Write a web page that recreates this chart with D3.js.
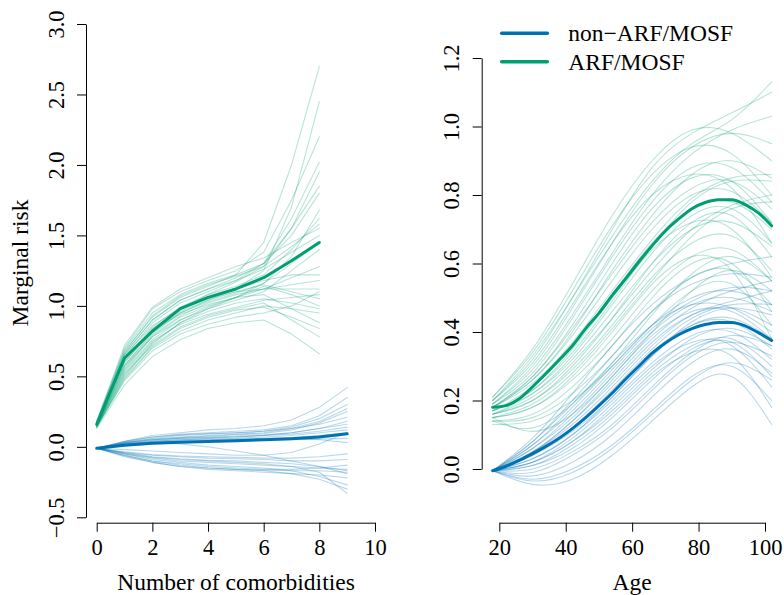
<!DOCTYPE html>
<html lang="en">
<head>
<meta charset="UTF-8" />
<title>Marginal risk</title>
<script src="https://d3js.org/d3.v7.min.js"></script>
<style>
  body { margin: 0; background: #fff; }
  svg { display: block; }
</style>
</head>
<body>
<svg width="784" height="595"></svg>
<script>
  const blue = "#0072B2";
  const green = "#009E73";
  const seriesNames = ["non\u2212ARF/MOSF", "ARF/MOSF"];

  // left panel: number of comorbidities
  const comorbArf = [0, 1, 2, 3, 4, 5, 6, 7, 8];
  const comorbNon = [0, 1, 2, 3, 4, 5, 6, 7, 8, 9];
  const meanArfComorb = [0.16, 0.63, 0.82, 0.98, 1.06, 1.12, 1.20, 1.32, 1.45];
  const meanNonComorb = [-0.01, 0.012, 0.025, 0.032, 0.038, 0.044, 0.05, 0.058, 0.07, 0.092];

  const drawsArfComorb = [
    [0.15,0.55,0.78,0.92,1.00,1.06,1.12,1.20,1.28],
    [0.17,0.66,0.90,1.04,1.12,1.20,1.30,1.55,1.85],
    [0.14,0.48,0.70,0.82,0.90,0.95,1.00,0.98,0.95],
    [0.18,0.70,0.98,1.10,1.18,1.25,1.38,1.75,2.20],
    [0.16,0.60,0.82,0.96,1.04,1.10,1.15,1.10,1.05],
    [0.15,0.52,0.72,0.85,0.93,0.98,1.02,0.90,0.78],
    [0.17,0.68,0.92,1.06,1.14,1.22,1.45,2.00,2.70],
    [0.16,0.62,0.85,0.99,1.08,1.14,1.22,1.40,1.62],
    [0.13,0.44,0.64,0.76,0.84,0.88,0.90,0.80,0.66],
    [0.18,0.72,0.99,1.12,1.20,1.28,1.34,1.45,1.55],
    [0.15,0.57,0.78,0.90,0.98,1.04,1.10,1.25,1.40],
    [0.16,0.64,0.88,1.02,1.10,1.18,1.30,1.62,2.02],
    [0.14,0.50,0.73,0.88,0.98,1.06,1.14,1.08,1.00],
    [0.17,0.65,0.86,0.98,1.05,1.10,1.12,1.15,1.18],
    [0.15,0.58,0.80,0.95,1.04,1.12,1.25,1.70,2.45],
    [0.16,0.61,0.84,0.97,1.05,1.12,1.18,1.22,1.22],
    [0.14,0.47,0.68,0.80,0.87,0.92,0.95,1.00,1.10],
    [0.18,0.69,0.95,1.08,1.16,1.22,1.30,1.50,1.80],
    [0.15,0.54,0.76,0.90,0.99,1.06,1.16,1.30,1.45],
    [0.17,0.63,0.83,0.94,1.01,1.06,1.08,0.98,0.88],
    [0.16,0.60,0.83,0.98,1.08,1.17,1.28,1.55,1.95],
    [0.15,0.56,0.79,0.93,1.02,1.08,1.12,1.12,1.12],
    [0.16,0.66,0.90,1.04,1.12,1.18,1.26,1.38,1.50],
    [0.14,0.51,0.74,0.88,0.96,1.02,1.05,1.02,0.98],
    [0.16,0.58,0.81,0.95,1.03,1.09,1.16,1.35,1.68],
    [0.15,0.53,0.75,0.87,0.94,0.99,1.04,1.06,1.08],
    [0.17,0.67,0.93,1.07,1.15,1.21,1.28,1.42,1.58],
    [0.14,0.49,0.71,0.84,0.92,0.97,0.99,0.92,0.84]
  ];

  const drawsNonComorb = [
    [-0.01,0.03,0.06,0.08,0.09,0.10,0.11,0.14,0.20,0.30],
    [-0.01,0.02,0.04,0.05,0.06,0.07,0.08,0.10,0.13,0.18],
    [-0.01,0.04,0.08,0.10,0.12,0.13,0.15,0.19,0.28,0.42],
    [-0.01,0.01,0.02,0.03,0.035,0.04,0.045,0.05,0.055,0.06],
    [-0.01,0.03,0.05,0.065,0.075,0.085,0.095,0.12,0.17,0.25],
    [-0.01,0.02,0.035,0.045,0.05,0.055,0.06,0.065,0.08,0.10],
    [-0.01,0.035,0.07,0.09,0.10,0.11,0.12,0.15,0.22,0.35],
    [-0.01,0.015,0.03,0.04,0.045,0.05,0.055,0.06,0.05,0.03],
    [-0.01,0.025,0.05,0.06,0.07,0.075,0.085,0.10,0.13,0.16],
    [-0.01,0.03,0.055,0.07,0.08,0.09,0.10,0.13,0.18,0.27],
    [-0.01,0.02,0.04,0.05,0.055,0.06,0.07,0.08,0.10,0.12],
    [-0.01,0.04,0.07,0.085,0.095,0.10,0.11,0.13,0.16,0.21],
    [-0.01,0.015,0.03,0.035,0.04,0.045,0.05,0.06,0.075,0.09],
    [-0.01,0.025,0.045,0.06,0.065,0.07,0.08,0.09,0.11,0.14],
    [-0.01,-0.05,-0.08,-0.10,-0.11,-0.12,-0.13,-0.14,-0.15,-0.16],
    [-0.01,-0.06,-0.10,-0.13,-0.15,-0.16,-0.17,-0.19,-0.23,-0.30],
    [-0.01,-0.04,-0.06,-0.07,-0.08,-0.085,-0.09,-0.10,-0.10,-0.09],
    [-0.01,-0.07,-0.11,-0.14,-0.16,-0.17,-0.18,-0.19,-0.20,-0.22],
    [-0.01,-0.05,-0.09,-0.11,-0.13,-0.14,-0.15,-0.17,-0.21,-0.27],
    [-0.01,-0.035,-0.055,-0.065,-0.07,-0.075,-0.08,-0.08,-0.07,-0.05],
    [-0.01,-0.06,-0.10,-0.12,-0.14,-0.15,-0.16,-0.16,-0.15,-0.13],
    [-0.01,-0.045,-0.075,-0.09,-0.10,-0.11,-0.12,-0.14,-0.18,-0.33],
    [-0.01,-0.065,-0.11,-0.14,-0.15,-0.16,-0.165,-0.17,-0.17,-0.18],
    [-0.01,-0.04,-0.07,-0.085,-0.095,-0.10,-0.11,-0.12,-0.14,-0.19],
    [-0.01,-0.02,-0.03,-0.04,-0.05,-0.06,-0.06,-0.04,0.02,0.10],
    [-0.01,0.02,0.03,0.02,0.0,-0.03,-0.06,-0.10,-0.14,-0.17]
  ];

  // right panel: age
  const meanAges = [18,22,26,30,34,38,42,46,50,54,58,62,66,70,74,78,82,86,90,94,98,102];
  const meanArfAge = [0.18,0.185,0.205,0.24,0.278,0.318,0.36,0.41,0.455,0.507,0.555,0.605,0.652,0.695,0.73,0.76,0.778,0.786,0.786,0.772,0.748,0.71];
  const meanNonAge = [-0.005,0.008,0.025,0.045,0.066,0.09,0.118,0.15,0.185,0.222,0.262,0.30,0.338,0.368,0.392,0.41,0.422,0.428,0.428,0.418,0.398,0.375];

  const drawAges = [18, 30, 42, 54, 66, 78, 90, 102];
  const drawsArfAge = [
    [0.18,0.26,0.40,0.58,0.74,0.86,0.90,0.85],
    [0.17,0.22,0.32,0.46,0.60,0.70,0.72,0.65],
    [0.20,0.32,0.50,0.70,0.88,0.98,1.04,1.10],
    [0.15,0.18,0.26,0.38,0.52,0.62,0.64,0.55],
    [0.19,0.28,0.44,0.62,0.78,0.88,0.88,0.78],
    [0.16,0.20,0.29,0.42,0.56,0.66,0.68,0.58],
    [0.21,0.35,0.54,0.74,0.90,0.99,0.98,0.90],
    [0.14,0.15,0.22,0.33,0.46,0.56,0.58,0.48],
    [0.18,0.25,0.37,0.52,0.67,0.79,0.85,0.86],
    [0.17,0.23,0.35,0.50,0.64,0.72,0.70,0.56],
    [0.19,0.30,0.47,0.66,0.83,0.94,0.98,0.95],
    [0.13,0.14,0.20,0.30,0.42,0.52,0.54,0.42],
    [0.18,0.27,0.41,0.57,0.72,0.82,0.84,0.76],
    [0.16,0.21,0.31,0.44,0.58,0.70,0.77,0.80],
    [0.20,0.31,0.48,0.66,0.80,0.86,0.82,0.66],
    [0.17,0.24,0.36,0.51,0.66,0.76,0.78,0.70],
    [0.15,0.19,0.28,0.41,0.55,0.68,0.76,0.78],
    [0.21,0.34,0.52,0.71,0.86,0.94,0.92,0.80],
    [0.18,0.26,0.39,0.55,0.70,0.80,0.81,0.72],
    [0.16,0.22,0.33,0.48,0.63,0.74,0.76,0.66],
    [0.19,0.29,0.45,0.63,0.80,0.92,0.99,1.03],
    [0.14,0.16,0.24,0.36,0.50,0.60,0.60,0.46],
    [0.18,0.27,0.42,0.60,0.76,0.85,0.84,0.72],
    [0.17,0.23,0.34,0.49,0.65,0.78,0.84,0.84],
    [0.20,0.33,0.50,0.68,0.84,0.95,1.02,1.13],
    [0.16,0.20,0.30,0.44,0.60,0.72,0.74,0.62],
    [0.15,0.18,0.27,0.40,0.54,0.62,0.58,0.38],
    [0.15,0.11,0.16,0.27,0.40,0.52,0.58,0.52],
    [0.14,0.12,0.19,0.31,0.45,0.57,0.62,0.55]
  ];

  const drawsNonAge = [
    [-0.005,0.05,0.14,0.25,0.37,0.45,0.47,0.42],
    [-0.005,0.02,0.08,0.17,0.28,0.36,0.38,0.30],
    [-0.005,0.08,0.20,0.33,0.46,0.54,0.57,0.56],
    [-0.005,-0.03,0.00,0.07,0.17,0.27,0.30,0.20],
    [-0.005,0.06,0.16,0.28,0.40,0.48,0.50,0.46],
    [-0.005,0.01,0.06,0.15,0.26,0.35,0.37,0.27],
    [-0.005,0.09,0.22,0.36,0.48,0.56,0.60,0.62],
    [-0.005,-0.045,-0.03,0.04,0.14,0.24,0.27,0.13],
    [-0.005,0.04,0.12,0.23,0.35,0.44,0.48,0.48],
    [-0.005,0.03,0.10,0.20,0.31,0.39,0.40,0.32],
    [-0.005,0.07,0.18,0.30,0.42,0.50,0.52,0.48],
    [-0.005,-0.02,0.02,0.10,0.21,0.31,0.35,0.28],
    [-0.005,0.05,0.13,0.24,0.36,0.45,0.49,0.52],
    [-0.005,0.02,0.09,0.19,0.30,0.37,0.36,0.24],
    [-0.005,0.06,0.15,0.27,0.39,0.46,0.46,0.38],
    [-0.005,0.00,0.05,0.13,0.24,0.34,0.39,0.36],
    [-0.005,0.04,0.11,0.21,0.33,0.42,0.44,0.38],
    [-0.005,0.08,0.19,0.31,0.42,0.48,0.47,0.40],
    [-0.005,-0.01,0.04,0.12,0.23,0.33,0.37,0.33],
    [-0.005,0.03,0.10,0.21,0.33,0.43,0.47,0.45],
    [-0.005,0.05,0.14,0.26,0.38,0.47,0.52,0.55],
    [-0.005,0.01,0.07,0.16,0.27,0.34,0.33,0.18],
    [-0.005,0.04,0.12,0.22,0.34,0.42,0.43,0.35],
    [-0.005,-0.035,-0.01,0.06,0.16,0.26,0.31,0.26],
    [-0.005,0.07,0.17,0.29,0.41,0.49,0.53,0.52],
    [-0.005,0.02,0.08,0.18,0.29,0.38,0.41,0.36]
  ];

  const leftXTicks = [0, 2, 4, 6, 8, 10];
  const leftYTicks = [-0.5, 0, 0.5, 1, 1.5, 2, 2.5, 3];
  const rightXTicks = [20, 40, 60, 80, 100];
  const rightYTicks = [0, 0.2, 0.4, 0.6, 0.8, 1.0, 1.2];

  const serif = "'Liberation Serif', 'Times New Roman', serif";
  const svg = d3.select("svg").attr("font-family", serif);
  const fmt = d3.format(".1f");
  const tickFont = 22.5;
  const titleFont = 23.5;

  const xL = d3.scaleLinear().domain([0, 10]).range([96.7, 375]);
  const yL = d3.scaleLinear().domain([-0.5, 3]).range([517.3, 24]);
  const xR = d3.scaleLinear().domain([20, 100]).range([499.3, 765]);
  const yR = d3.scaleLinear().domain([0, 1.2]).range([469, 58]);

  function drawLines(xs, sets, x, y, color, curve, opacity, width) {
    const line = d3.line()
      .x((d, i) => x(xs[i]))
      .y(d => y(d))
      .curve(curve);
    svg.append("g")
      .selectAll("path")
      .data(sets)
      .enter()
      .append("path")
      .attr("d", line)
      .attr("fill", "none")
      .attr("stroke", color)
      .attr("stroke-opacity", opacity)
      .attr("stroke-width", width)
      .attr("stroke-linejoin", "round")
      .attr("stroke-linecap", "round");
  }

  // spaghetti draws first, then the posterior means on top
  drawLines(comorbArf, drawsArfComorb, xL, yL, green, d3.curveLinear, 0.28, 1.1);
  drawLines(comorbNon, drawsNonComorb, xL, yL, blue, d3.curveLinear, 0.28, 1.1);
  drawLines(drawAges, drawsArfAge, xR, yR, green, d3.curveNatural, 0.28, 1.1);
  drawLines(drawAges, drawsNonAge, xR, yR, blue, d3.curveNatural, 0.28, 1.1);

  drawLines(comorbArf, [meanArfComorb], xL, yL, green, d3.curveLinear, 1, 3);
  drawLines(comorbNon, [meanNonComorb], xL, yL, blue, d3.curveLinear, 1, 3);
  drawLines(meanAges, [meanArfAge], xR, yR, green, d3.curveMonotoneX, 1, 3);
  drawLines(meanAges, [meanNonAge], xR, yR, blue, d3.curveMonotoneX, 1, 3);

  function xAxis(scale, ticks, yPos, fmtFn) {
    const g = svg.append("g")
      .attr("transform", `translate(0,${yPos})`)
      .call(d3.axisBottom(scale).tickValues(ticks).tickSize(9).tickSizeOuter(0).tickFormat(fmtFn));
    g.attr("font-size", tickFont).attr("font-family", serif);
    g.selectAll("path, line").attr("stroke", "#000");
    g.selectAll("text").attr("y", 32).attr("dy", 0).attr("font-family", serif);
  }

  function yAxis(scale, ticks, xPos) {
    const g = svg.append("g")
      .attr("transform", `translate(${xPos},0)`)
      .call(d3.axisLeft(scale).tickValues(ticks).tickSize(9).tickSizeOuter(0).tickFormat(fmt));
    g.attr("font-size", tickFont).attr("font-family", serif);
    g.selectAll("path, line").attr("stroke", "#000");
    g.selectAll("text")
      .attr("font-family", serif)
      .attr("transform", "rotate(-90)")
      .attr("x", 0)
      .attr("y", -22.5)
      .attr("dy", 0)
      .attr("text-anchor", "middle");
  }

  xAxis(xL, leftXTicks, 522.7, d3.format("d"));
  yAxis(yL, leftYTicks, 86);
  xAxis(xR, rightXTicks, 522.7, d3.format("d"));
  yAxis(yR, rightYTicks, 481.7);

  svg.append("text")
    .attr("x", 236).attr("y", 590)
    .attr("text-anchor", "middle")
    .attr("font-family", serif)
    .attr("font-size", titleFont)
    .text("Number of comorbidities");

  svg.append("text")
    .attr("x", 632).attr("y", 590)
    .attr("text-anchor", "middle")
    .attr("font-family", serif)
    .attr("font-size", titleFont)
    .text("Age");

  svg.append("text")
    .attr("transform", "translate(27.5,263) rotate(-90)")
    .attr("text-anchor", "middle")
    .attr("font-family", serif)
    .attr("font-size", titleFont)
    .text("Marginal risk");

  // legend
  const legend = svg.append("g")
    .selectAll("g")
    .data(seriesNames)
    .enter()
    .append("g")
    .attr("transform", (d, i) => `translate(0,${33.3 + i * 28.4})`);

  legend.append("line")
    .attr("x1", 501.7).attr("x2", 547.3)
    .attr("stroke", (d, i) => i === 0 ? blue : green)
    .attr("stroke-width", 3.5)
    .attr("stroke-linecap", "round");

  legend.append("text")
    .attr("x", 568.3).attr("y", 8)
    .attr("font-family", serif)
    .attr("font-size", titleFont)
    .text(d => d);
</script>
</body>
</html>
